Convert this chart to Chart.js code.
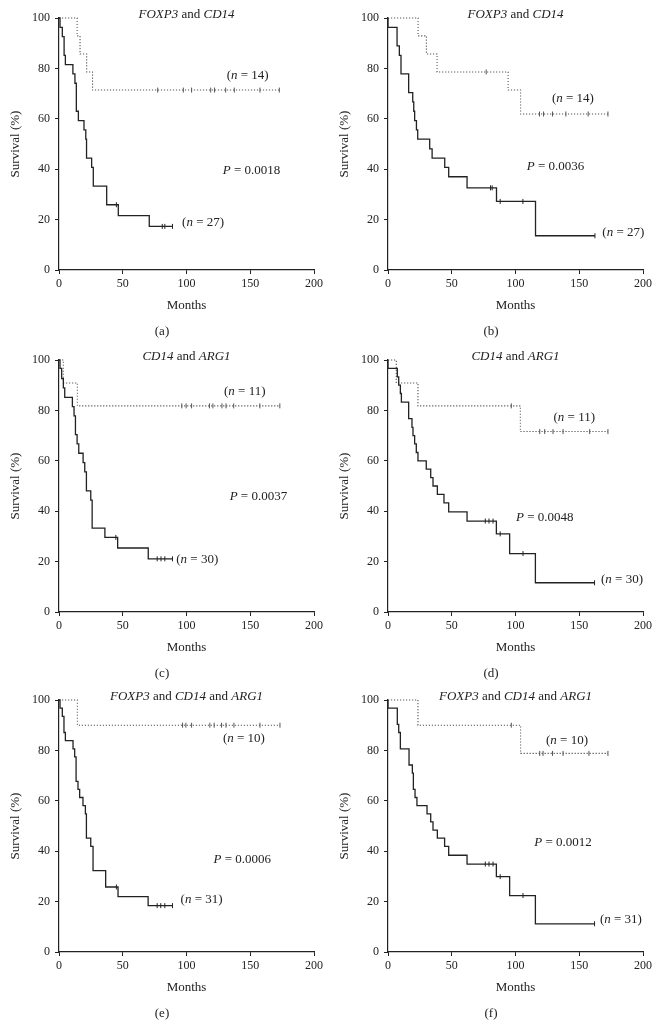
<!DOCTYPE html>
<html>
<head>
<meta charset="utf-8">
<script src="https://cdn.jsdelivr.net/npm/chart.js@4.4.1/dist/chart.umd.min.js"></script>
<style>
  html, body { margin: 0; padding: 0; background: #fff; }
  #page { position: relative; width: 660px; height: 1027px; overflow: hidden; }
  #page canvas { position: absolute; }
</style>
</head>
<body>
<div id="page"></div>
<script>
const INK = "#222";
const DOT_INK = "#555";
const SERIF = '"Liberation Serif", "Times New Roman", serif';

const monthTicks = [0, 50, 100, 150, 200];
const survivalTicks = [0, 20, 40, 60, 80, 100];

// (a) FOXP3 and CD14
const aSolidMonths = [0, 0.8, 2.6, 4.0, 5.0, 10.9, 12.5, 13.6, 15.2, 19.6, 21.0, 21.6, 25.6, 26.9, 37.4, 46.5, 70.8, 89];
const aSolidSurv   = [100, 96.3, 92.6, 85.2, 81.5, 77.8, 74.1, 63.0, 59.3, 55.6, 51.9, 44.4, 40.7, 33.3, 25.9, 21.6, 17.3, 17.3];
const aSolidCens   = [45, 81, 83, 89];
const aDotMonths   = [0, 14.2, 16.5, 21.7, 26.3, 172.8];
const aDotSurv     = [100, 92.9, 85.7, 78.6, 71.4, 71.4];
const aDotCens     = [77.4, 97.5, 104, 119, 122, 130.7, 137.5, 157.6, 172.8];

// (b) FOXP3 and CD14
const bSolidMonths = [0, 0, 7.1, 8.9, 10.2, 16.2, 19.4, 20.2, 20.9, 22.3, 23.3, 32.7, 34.6, 44.5, 47.6, 62, 85.1, 115.7, 162.3];
const bSolidSurv   = [100, 96.3, 88.9, 85.2, 77.8, 70.4, 66.7, 63.0, 59.3, 55.6, 51.9, 48.1, 44.4, 40.7, 37.0, 32.6, 27.2, 13.6, 13.6];
const bSolidCens   = [80.4, 81.7, 88, 105.8, 162.3];
const bDotMonths   = [0, 23.6, 30.1, 38.5, 94.2, 104, 172.5];
const bDotSurv     = [100, 92.9, 85.7, 78.6, 71.4, 61.9, 61.9];
const bDotCens     = [77, 118.8, 122, 129, 139.5, 157, 172.5];

// (c) CD14 and ARG1
const cSolidMonths = [0, 0.8, 2.1, 3.4, 4.5, 10.5, 11.8, 12.9, 14.2, 15.5, 18.9, 20.2, 21.5, 24.9, 26, 36, 46, 70, 89];
const cSolidSurv   = [100, 96.7, 92.6, 88.9, 85.2, 81.5, 77.8, 70.4, 66.7, 63.0, 59.3, 55.6, 48.1, 44.4, 33.3, 29.6, 25.4, 21.1, 21.1];
const cSolidCens   = [44.6, 77, 80, 83, 89];
const cDotMonths   = [0, 3.4, 14.4, 173.2];
const cDotSurv     = [100, 90.9, 81.8, 81.8];
const cDotCens     = [96.3, 99.7, 104, 118, 120.7, 127.8, 131, 137, 157.5, 173.2];

// (d) CD14 and ARG1
const dSolidMonths = [0, 0, 7.3, 8.4, 9.7, 10.5, 16.2, 18.8, 19.6, 20.9, 22.2, 23.5, 30, 33.5, 35.3, 38.7, 43.9, 47.6, 62, 85, 95.4, 115.6, 162];
const dSolidSurv   = [100, 96.7, 93.3, 90.0, 86.7, 83.3, 76.7, 73.3, 70.0, 66.7, 63.3, 60.0, 56.7, 53.3, 50.0, 46.7, 43.3, 39.7, 36.1, 31.0, 23.2, 11.6, 11.6];
const dSolidCens   = [76.3, 79.2, 82.4, 88, 105.9, 162];
const dDotMonths   = [0, 6.5, 23.5, 103.8, 172.5];
const dDotSurv     = [100, 90.9, 81.8, 71.6, 71.6];
const dDotCens     = [96.7, 119, 122.9, 129.4, 137.3, 158.2, 172.5];

// (e) FOXP3 and CD14 and ARG1
const eSolidMonths = [0, 0.8, 2.6, 3.9, 5, 11, 12.3, 13.4, 14.9, 16.2, 18.8, 20.7, 21.5, 24.9, 26.7, 36.6, 46.3, 69.9, 89];
const eSolidSurv   = [100, 96.8, 93.5, 87.1, 83.9, 80.6, 77.4, 67.7, 64.5, 61.3, 58.1, 54.8, 45.2, 41.9, 32.3, 25.8, 22.0, 18.4, 18.4];
const eSolidCens   = [45, 77, 79.8, 83, 89];
const eDotMonths   = [0, 14.4, 173.3];
const eDotSurv     = [100, 90, 90];
const eDotCens     = [96.9, 99.5, 104, 118.3, 121.7, 127.5, 131, 137.2, 157.6, 173.3];

// (f) FOXP3 and CD14 and ARG1
const fSolidMonths = [0, 0, 7.3, 8.4, 9.7, 16.5, 19.1, 19.9, 21.2, 22.7, 30.6, 33.5, 35.3, 38.7, 44.4, 47.6, 62, 85, 95.4, 115.6, 162];
const fSolidSurv   = [100, 96.8, 90.3, 87.1, 80.6, 74.2, 71.0, 64.5, 61.3, 58.1, 54.8, 51.6, 48.4, 45.2, 41.9, 38.4, 34.9, 29.9, 22.4, 11.2, 11.2];
const fSolidCens   = [76.3, 79.2, 82.4, 88, 105.9, 162];
const fDotMonths   = [0, 23.5, 104, 172.5];
const fDotSurv     = [100, 90, 78.8, 78.8];
const fDotCens     = [96.7, 119, 121.6, 129, 137.3, 157.6, 172.5];

const panelLetters = ["a", "b", "c", "d", "e", "f"];
const nSolid = [27, 27, 30, 30, 31, 31];
const nDot = [14, 14, 11, 11, 10, 10];
const pValues = ["0.0018", "0.0036", "0.0037", "0.0048", "0.0006", "0.0012"];
const genePairs = [
    ["FOXP3", "CD14"], ["FOXP3", "CD14"],
    ["CD14", "ARG1"], ["CD14", "ARG1"],
    ["FOXP3", "CD14", "ARG1"], ["FOXP3", "CD14", "ARG1"],
];

// where the in-plot notes sit, in data units: [nDot, P, nSolid]
const notePlace = [
    [[148, 77], [151, 39.4], [113, 18.7]],
    [[145, 68], [131.4, 41.2], [184.6, 14.9]],
    [[145.7, 87.5], [156.4, 45.9], [108.4, 20.8]],
    [[146.1, 77.3], [122.9, 37.6], [183.5, 12.9]],
    [[145, 84.8], [143.7, 36.7], [111.8, 20.8]],
    [[140.4, 83.8], [137.3, 43.3], [182.7, 12.7]],
];

const curves = [
    [aSolidMonths, aSolidSurv, aSolidCens, aDotMonths, aDotSurv, aDotCens],
    [bSolidMonths, bSolidSurv, bSolidCens, bDotMonths, bDotSurv, bDotCens],
    [cSolidMonths, cSolidSurv, cSolidCens, cDotMonths, cDotSurv, cDotCens],
    [dSolidMonths, dSolidSurv, dSolidCens, dDotMonths, dDotSurv, dDotCens],
    [eSolidMonths, eSolidSurv, eSolidCens, eDotMonths, eDotSurv, eDotCens],
    [fSolidMonths, fSolidSurv, fSolidCens, fDotMonths, fDotSurv, fDotCens],
];

function survAt(months, surv, t) {
    let v = surv[0];
    for (let i = 0; i < months.length; i++) {
        if (months[i] <= t) v = surv[i];
    }
    return v;
}

function fontStr(italic) {
    return (italic ? "italic " : "") + "13px " + SERIF;
}

// draw text made of [text, italic] parts, centred on cx
function drawRich(ctx, parts, cx, cy) {
    const widths = parts.map(([t, it]) => { ctx.font = fontStr(it); return ctx.measureText(t).width; });
    let x = cx - widths.reduce((a, b) => a + b, 0) / 2;
    parts.forEach(([t, it], i) => {
        ctx.font = fontStr(it);
        ctx.fillText(t, x, cy);
        x += widths[i];
    });
}

const notesPlugin = {
    id: "notes",
    afterDraw(chart, args, opts) {
        const { ctx, chartArea, scales } = chart;
        ctx.save();
        ctx.fillStyle = INK;
        ctx.textAlign = "left";
        ctx.textBaseline = "middle";
        drawRich(ctx, opts.title, (chartArea.left + chartArea.right) / 2, chartArea.top - 3);
        opts.items.forEach(it => {
            drawRich(ctx, it.parts, scales.x.getPixelForValue(it.x), scales.y.getPixelForValue(it.y));
        });
        drawRich(ctx, [[opts.label, false]], 162, 332);
        ctx.restore();
    },
};

function makePanel(idx) {
    const [sm, ss, sc, dm, ds, dc] = curves[idx];
    const place = notePlace[idx];
    const genes = genePairs[idx];
    const title = [];
    genes.forEach((g, i) => {
        if (i > 0) title.push([" and ", false]);
        title.push([g, true]);
    });

    const canvas = document.createElement("canvas");
    canvas.width = 330;
    canvas.height = 340;
    canvas.style.left = (idx % 2 === 0 ? 0 : 329) + "px";
    canvas.style.top = [0, 342, 682][Math.floor(idx / 2)] + "px";
    document.getElementById("page").appendChild(canvas);

    const axisFont = { family: SERIF, size: 12 };
    const titleFont = { family: SERIF, size: 13, lineHeight: 1.2 };

    new Chart(canvas.getContext("2d"), {
        type: "line",
        data: {
            datasets: [
                {
                    data: sm.map((m, i) => ({ x: m, y: ss[i] })),
                    stepped: true,
                    borderColor: INK, borderWidth: 1.3,
                    pointRadius: 0, fill: false,
                },
                {
                    data: dm.map((m, i) => ({ x: m, y: ds[i] })),
                    stepped: true,
                    borderColor: DOT_INK, borderWidth: 1.1,
                    borderDash: [1.2, 1.8],
                    pointRadius: 0, fill: false,
                },
                {
                    data: sc.map(t => ({ x: t, y: survAt(sm, ss, t) })),
                    showLine: false,
                    pointStyle: "line", pointRotation: 90, pointRadius: 2.5,
                    pointBorderColor: INK, pointBorderWidth: 1,
                },
                {
                    data: dc.map(t => ({ x: t, y: survAt(dm, ds, t) })),
                    showLine: false,
                    pointStyle: "line", pointRotation: 90, pointRadius: 2.5,
                    pointBorderColor: DOT_INK, pointBorderWidth: 1,
                },
            ],
        },
        options: {
            responsive: false,
            animation: false,
            events: [],
            clip: false,
            layout: { padding: { left: 0, top: 18, right: 16, bottom: 0 } },
            plugins: {
                legend: { display: false },
                tooltip: { enabled: false },
                notes: {
                    title: title,
                    label: "(" + panelLetters[idx] + ")",
                    items: [
                        { x: place[0][0], y: place[0][1], parts: [["(", false], ["n", true], [" = " + nDot[idx] + ")", false]] },
                        { x: place[1][0], y: place[1][1], parts: [["P", true], [" = " + pValues[idx], false]] },
                        { x: place[2][0], y: place[2][1], parts: [["(", false], ["n", true], [" = " + nSolid[idx] + ")", false]] },
                    ],
                },
            },
            scales: {
                x: {
                    type: "linear", min: 0, max: 200,
                    afterBuildTicks: s => { s.ticks = monthTicks.map(v => ({ value: v })); },
                    afterFit: s => { s.height = 70; },
                    ticks: { font: axisFont, color: INK, padding: 3, maxRotation: 0 },
                    grid: { drawOnChartArea: false, drawTicks: true, tickLength: 4, color: INK, lineWidth: 1 },
                    border: { display: true, color: INK, width: 1.2 },
                    title: { display: true, text: "Months", font: titleFont, color: INK, padding: { top: 0, bottom: 27 } },
                },
                y: {
                    type: "linear", min: 0, max: 100,
                    afterBuildTicks: s => { s.ticks = survivalTicks.map(v => ({ value: v })); },
                    afterFit: s => { s.width = 59; },
                    ticks: { font: axisFont, color: INK, padding: 5 },
                    grid: { drawOnChartArea: false, drawTicks: true, tickLength: 4, color: INK, lineWidth: 1 },
                    border: { display: true, color: INK, width: 1.2 },
                    title: { display: true, text: "Survival (%)", font: titleFont, color: INK, padding: { top: 8, bottom: 0 } },
                },
            },
        },
        plugins: [notesPlugin],
    });
}

panelLetters.forEach((_, i) => makePanel(i));
</script>
</body>
</html>
